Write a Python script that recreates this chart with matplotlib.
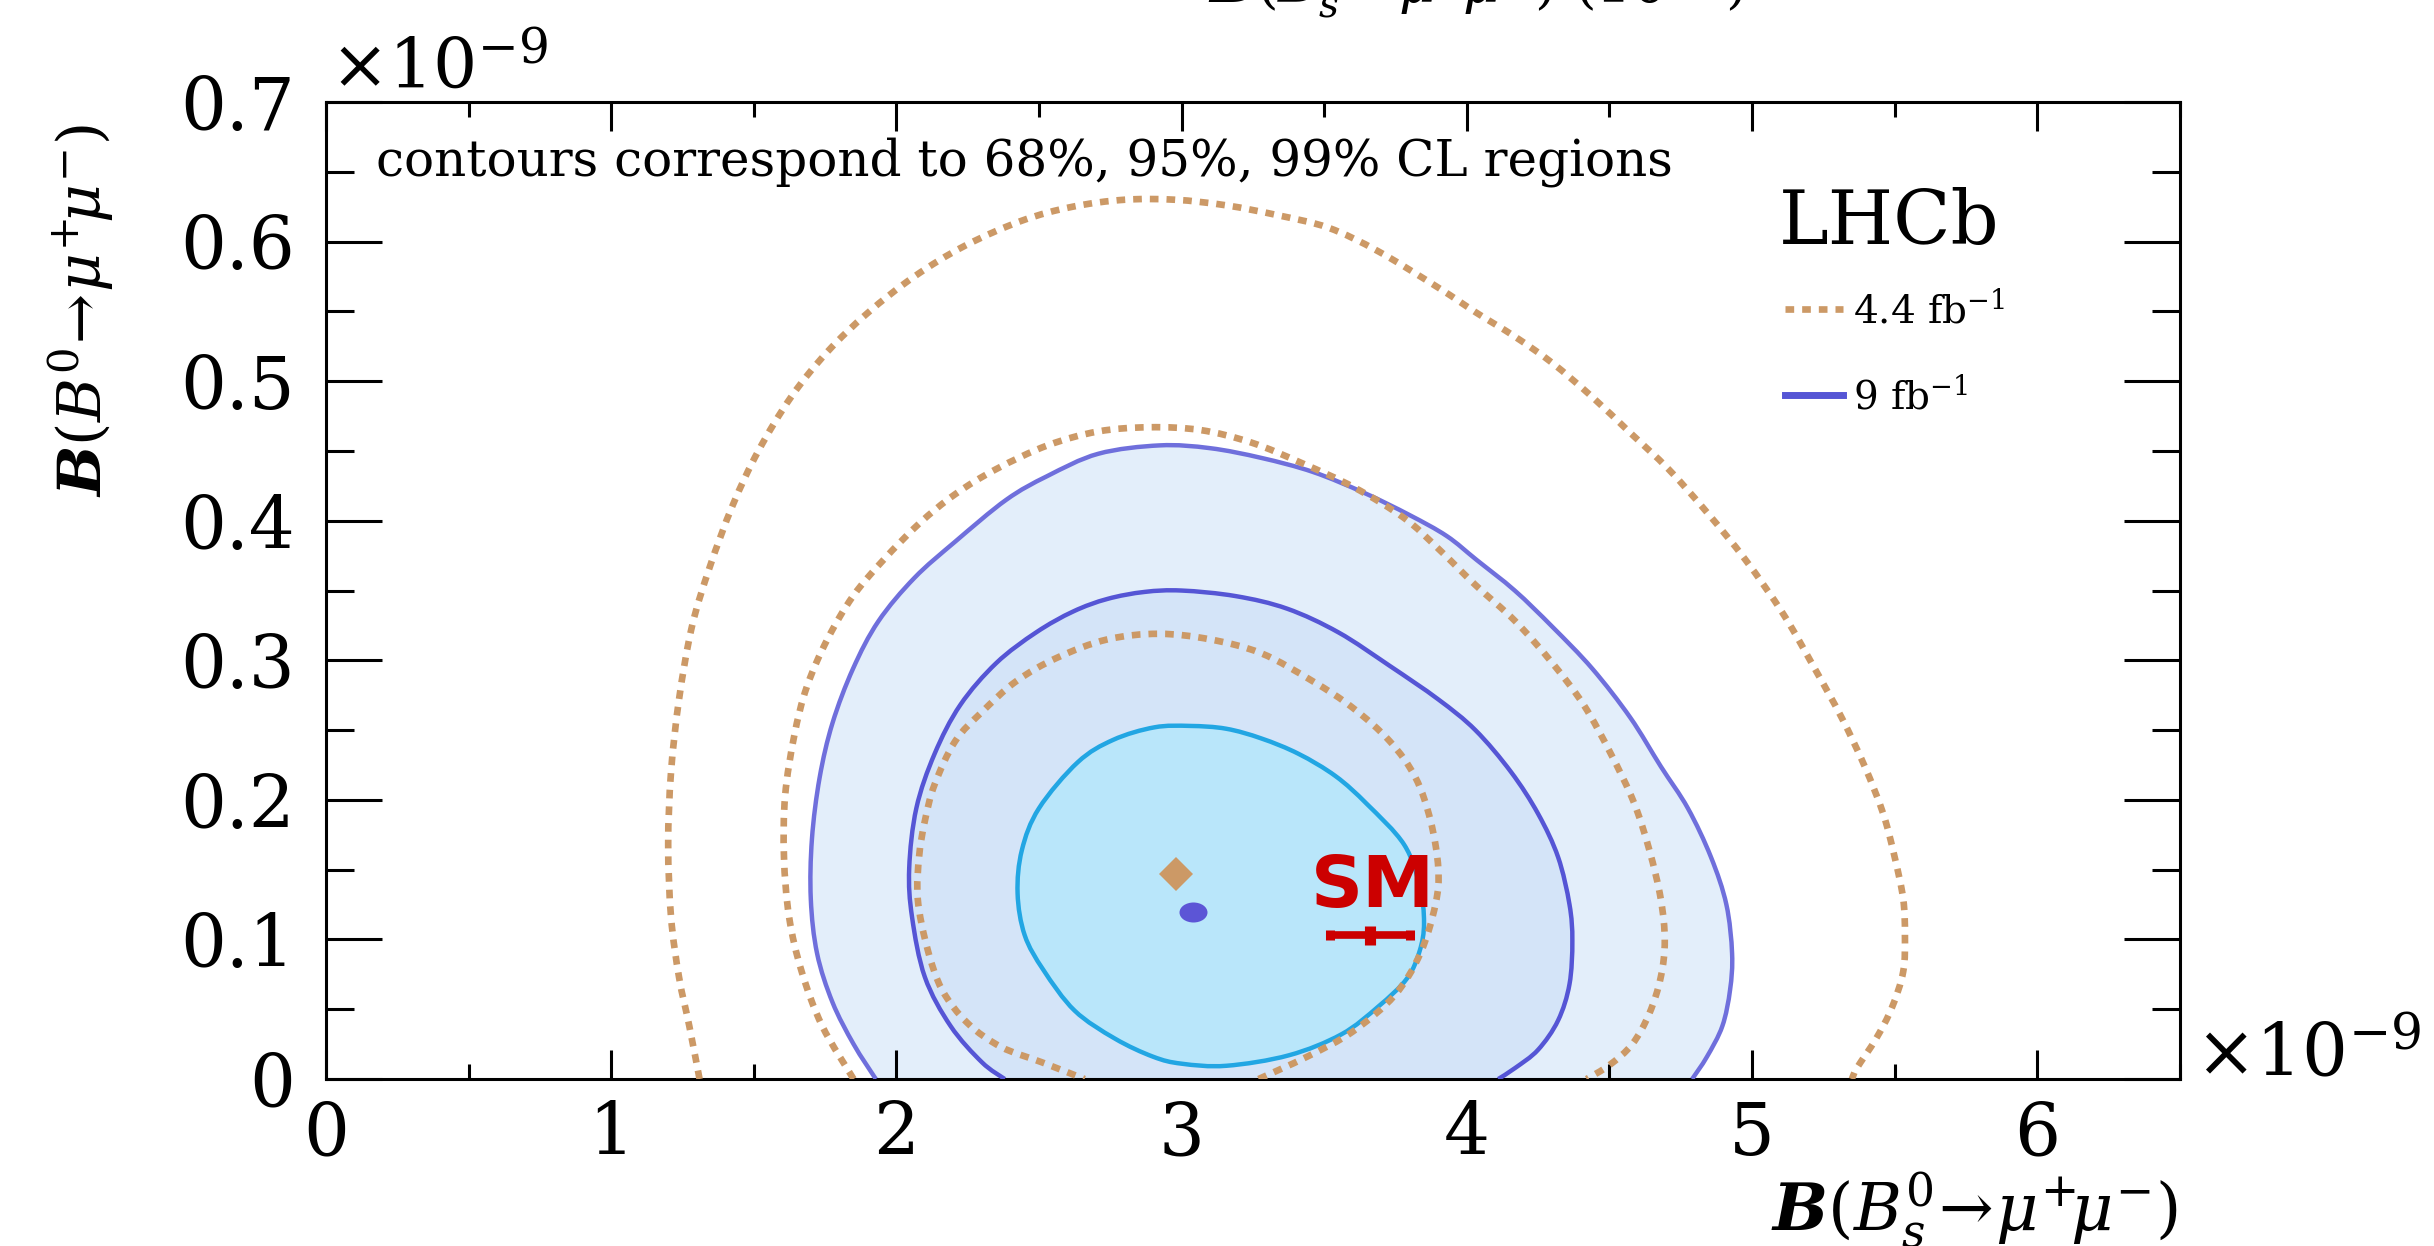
import numpy as np
import matplotlib as mpl
import matplotlib.pyplot as plt
from matplotlib.lines import Line2D
from matplotlib.markers import MarkerStyle
from matplotlib.path import Path
from matplotlib.patches import PathPatch
from matplotlib.transforms import Affine2D
from matplotlib.ticker import MultipleLocator, FuncFormatter

mpl.rcParams['font.family'] = 'DejaVu Serif'
mpl.rcParams['mathtext.fontset'] = 'dejavuserif'
mpl.rcParams['axes.linewidth'] = 2.2
mpl.rcParams['lines.dash_capstyle'] = 'butt'

# Branching fractions in units of 1e-9: x = B(Bs -> mu mu), y = B(B0 -> mu mu)

# 9 fb-1, 68% CL (closed)
bs_9fb_68 = [3.03, 2.905, 2.76, 2.636, 2.50, 2.44, 2.425, 2.45, 2.516, 2.625, 2.766, 2.90, 3.0,
             3.157, 3.376, 3.56, 3.69, 3.79, 3.835, 3.85, 3.835, 3.78, 3.65, 3.54, 3.41, 3.28, 3.156]
b0_9fb_68 = [0.253, 0.252, 0.243, 0.227, 0.194, 0.164, 0.133, 0.103, 0.078, 0.049, 0.029, 0.016, 0.011,
             0.0095, 0.017, 0.032, 0.052, 0.072, 0.092, 0.112, 0.138, 0.168, 0.197, 0.217, 0.233, 0.244, 0.251]

# 9 fb-1, 95% CL (cut at zero)
bs_9fb_95 = [2.38, 2.30, 2.19, 2.10, 2.055, 2.045, 2.07, 2.134, 2.224, 2.35, 2.49, 2.62, 2.74, 2.87,
             3.0, 3.19, 3.37, 3.55, 3.73, 3.90, 4.03, 4.155, 4.25, 4.32, 4.36, 4.37, 4.36, 4.32, 4.25,
             4.17, 4.11]
b0_9fb_95 = [0.0, 0.012, 0.038, 0.073, 0.116, 0.151, 0.194, 0.233, 0.268, 0.298, 0.320, 0.335, 0.344,
             0.349, 0.350, 0.346, 0.337, 0.320, 0.296, 0.272, 0.250, 0.220, 0.190, 0.159, 0.125, 0.099,
             0.068, 0.042, 0.021, 0.008, 0.0]

# 9 fb-1, 99% CL
bs_9fb_99 = [1.928, 1.85, 1.776, 1.722, 1.70, 1.704, 1.731, 1.776, 1.848, 1.937, 2.063, 2.206, 2.385,
             2.529, 2.708, 2.923, 3.10, 3.28, 3.46, 3.64, 3.80, 3.93, 4.034, 4.168, 4.30, 4.44, 4.573,
             4.68, 4.775, 4.856, 4.91, 4.93, 4.923, 4.896, 4.842, 4.79]
b0_9fb_99 = [0.0, 0.025, 0.055, 0.090, 0.129, 0.172, 0.216, 0.255, 0.294, 0.328, 0.359, 0.385, 0.415,
             0.432, 0.448, 0.454, 0.452, 0.445, 0.435, 0.420, 0.404, 0.389, 0.372, 0.350, 0.324, 0.294,
             0.259, 0.224, 0.194, 0.159, 0.125, 0.090, 0.064, 0.038, 0.016, 0.0]

# 4.4 fb-1, 68% CL (dips below zero)
bs_44fb_68 = [3.27, 3.44, 3.60, 3.747, 3.837, 3.89, 3.90, 3.873, 3.82, 3.73, 3.60, 3.46, 3.28, 3.10,
              2.92, 2.74, 2.565, 2.42, 2.30, 2.206, 2.134, 2.10, 2.08, 2.075, 2.108, 2.16, 2.25, 2.367,
              2.51, 2.66]
b0_44fb_68 = [0.0, 0.016, 0.034, 0.060, 0.090, 0.125, 0.151, 0.185, 0.216, 0.242, 0.266, 0.285, 0.305,
              0.315, 0.319, 0.315, 0.302, 0.285, 0.263, 0.242, 0.211, 0.185, 0.160, 0.129, 0.094, 0.064,
              0.040, 0.023, 0.012, 0.0]

# 4.4 fb-1, 95% CL
bs_44fb_95 = [1.85, 1.74, 1.668, 1.624, 1.606, 1.61, 1.642, 1.686, 1.758, 1.848, 1.955, 2.08, 2.206,
              2.35, 2.53, 2.708, 2.887, 3.066, 3.245, 3.425, 3.604, 3.78, 3.90, 4.03, 4.17, 4.30, 4.41,
              4.505, 4.586, 4.64, 4.68, 4.694, 4.68, 4.64, 4.58, 4.50, 4.42]
b0_44fb_95 = [0.0, 0.038, 0.077, 0.116, 0.159, 0.203, 0.246, 0.281, 0.315, 0.346, 0.372, 0.398, 0.419,
              0.437, 0.454, 0.464, 0.467, 0.465, 0.456, 0.441, 0.424, 0.402, 0.380, 0.354, 0.328, 0.298,
              0.268, 0.233, 0.198, 0.164, 0.129, 0.099, 0.073, 0.047, 0.025, 0.010, 0.0]

# 4.4 fb-1, 99% CL
bs_44fb_99 = [1.31, 1.274, 1.238, 1.21, 1.20, 1.21, 1.238, 1.283, 1.346, 1.426, 1.516, 1.632, 1.758,
              1.90, 2.063, 2.24, 2.44, 2.618, 2.80, 2.977, 3.156, 3.335, 3.514, 3.69, 3.90, 4.034, 4.168,
              4.30, 4.438, 4.573, 4.707, 4.842, 4.977, 5.11, 5.22, 5.314, 5.395, 5.46, 5.50, 5.53, 5.536,
              5.53, 5.49, 5.435, 5.368, 5.35]
b0_44fb_99 = [0.0, 0.038, 0.073, 0.116, 0.168, 0.220, 0.272, 0.324, 0.367, 0.411, 0.450, 0.489, 0.521,
              0.549, 0.575, 0.597, 0.615, 0.625, 0.630, 0.630, 0.626, 0.619, 0.610, 0.593, 0.567, 0.549,
              0.532, 0.513, 0.489, 0.463, 0.437, 0.406, 0.372, 0.333, 0.294, 0.259, 0.224, 0.190, 0.159,
              0.129, 0.103, 0.077, 0.051, 0.029, 0.008, 0.0]

# best-fit points
bs_fit_9fb, b0_fit_9fb = 3.04, 0.120
bs_fit_44fb, b0_fit_44fb = 2.98, 0.147

# SM prediction
bs_sm, bs_sm_err = 3.66, 0.14
b0_sm, b0_sm_err = 0.103, 0.007

ORANGE = '#cc9966'
LINE68, FILL68 = '#22a6e3', '#b9e6fa'
LINE95, FILL95 = '#5555d5', '#d4e4f8'
LINE99, FILL99 = '#6f6fdc', '#e3eefa'
DOT = '#5c55d6'
RED = '#cc0000'
DASH = (1.3, 1.2)

XLABEL = r'$\mathbfit{B}(B^0_s\!\rightarrow\!\mu^{+}\!\mu^{-})$'
YLABEL = r'$\mathbfit{B}(B^0\!\rightarrow\!\mu^{+}\!\mu^{-})$'


def smooth_path(xs, ys, closed=False, close_on_axis=False):
    # Catmull-Rom through the contour points, drawn as cubic Bezier segments
    pts = np.column_stack([xs, ys])
    n = len(pts)
    if closed:
        ext = np.vstack([pts[-1:], pts, pts[:2]])
        segs = n
    else:
        ext = np.vstack([pts[:1], pts, pts[-1:]])
        segs = n - 1
    verts = [pts[0]]
    codes = [Path.MOVETO]
    for i in range(segs):
        p0, p1, p2, p3 = ext[i], ext[i + 1], ext[i + 2], ext[i + 3]
        verts += [p1 + (p2 - p0) / 6, p2 - (p3 - p1) / 6, p2]
        codes += [Path.CURVE4] * 3
    if closed or close_on_axis:
        verts.append(pts[0])
        codes.append(Path.CLOSEPOLY)
    return Path(verts, codes)


def draw_contours(ax):
    fills = [(bs_9fb_99, b0_9fb_99, FILL99, LINE99, False),
             (bs_9fb_95, b0_9fb_95, FILL95, LINE95, False),
             (bs_9fb_68, b0_9fb_68, FILL68, LINE68, True)]
    for z, (xs, ys, fc, ec, closed) in enumerate(fills):
        ax.add_patch(PathPatch(smooth_path(xs, ys, closed, True), facecolor=fc,
                               edgecolor='none', zorder=1 + z))
    for xs, ys, fc, ec, closed in fills:
        ax.add_patch(PathPatch(smooth_path(xs, ys, closed), fill=False, edgecolor=ec,
                               lw=3.2, joinstyle='round', zorder=4))
    for xs, ys in [(bs_44fb_68, b0_44fb_68), (bs_44fb_95, b0_44fb_95), (bs_44fb_99, b0_44fb_99)]:
        ax.add_patch(PathPatch(smooth_path(xs, ys), fill=False, edgecolor=ORANGE, lw=4.8,
                               linestyle=(0, DASH), capstyle='butt', zorder=5))


def draw_points(ax):
    ax.plot(bs_fit_44fb, b0_fit_44fb, marker='D', ms=17, color=ORANGE, mew=0, ls='none', zorder=7)
    ellipse = MarkerStyle('o', transform=Affine2D().scale(1.4, 1.0))
    ax.plot(bs_fit_9fb, b0_fit_9fb, marker=ellipse, ms=14.4, color=DOT, mew=0, ls='none', zorder=7)
    ax.errorbar(bs_sm, b0_sm, xerr=bs_sm_err, fmt='none', ecolor=RED, elinewidth=5.5,
                capsize=3.6, capthick=6.5, zorder=8)
    ax.errorbar(bs_sm, b0_sm, yerr=b0_sm_err, fmt='none', ecolor=RED, elinewidth=8,
                capsize=0, zorder=8)
    ax.annotate('SM', xy=(bs_sm, b0_sm), xytext=(2, 20.5), textcoords='offset points',
                ha='center', va='baseline', fontsize=52, fontweight='bold',
                family='DejaVu Sans', color=RED, zorder=9)


def style_axes(ax):
    ax.set_xlim(0, 6.5)
    ax.set_ylim(0, 0.7)
    ax.xaxis.set_major_locator(MultipleLocator(1))
    ax.xaxis.set_minor_locator(MultipleLocator(0.5))
    ax.yaxis.set_major_locator(MultipleLocator(0.1))
    ax.yaxis.set_minor_locator(MultipleLocator(0.05))
    fmt = FuncFormatter(lambda v, p: f'{v:g}')
    ax.xaxis.set_major_formatter(fmt)
    ax.yaxis.set_major_formatter(fmt)
    ax.tick_params(which='both', direction='in', top=True, right=True, width=2.2, labelsize=52)
    ax.tick_params(axis='x', which='major', length=21, pad=15)
    ax.tick_params(axis='x', which='minor', length=10.5)
    ax.tick_params(axis='y', which='major', length=40, pad=22)
    ax.tick_params(axis='y', which='minor', length=20)

    ax.annotate(r'$\times10^{-9}$', xy=(0, 1), xycoords='axes fraction', xytext=(3, 10),
                textcoords='offset points', ha='left', va='baseline', fontsize=50)
    ax.annotate(r'$\times10^{-9}$', xy=(1, 0), xycoords='axes fraction', xytext=(11, 2),
                textcoords='offset points', ha='left', va='baseline', fontsize=52)


def draw_legend(ax):
    ax.text(0.027, 0.925, 'contours correspond to 68%, 95%, 99% CL regions',
            transform=ax.transAxes, fontsize=36, va='baseline')
    ax.text(0.7838, 0.8547, 'LHCb', transform=ax.transAxes, fontsize=54, va='baseline')
    handles = [Line2D([], [], color=ORANGE, lw=4.8, dashes=DASH),
               Line2D([], [], color=LINE95, lw=5)]
    ax.legend(handles, [r'4.4 fb$^{-1}$', r'9 fb$^{-1}$'], loc='upper left',
              bbox_to_anchor=(0.787, 0.807), frameon=False, fontsize=28,
              handlelength=1.5, handletextpad=0.25, labelspacing=1.2,
              borderpad=0, borderaxespad=0)


if __name__ == "__main__":
    fig = plt.figure(figsize=(24.34, 12.46), dpi=100)
    ax = fig.add_axes([0.1339, 0.134, 0.7617, 0.7841])
    draw_contours(ax)
    draw_points(ax)
    style_axes(ax)
    draw_legend(ax)

    fig.text(0.0333, 0.9005, YLABEL, rotation=90, ha='center', va='top', fontsize=43)
    fig.text(0.8948, 0.0130, XLABEL, ha='right', va='baseline', fontsize=47)
    # x title of the panel above, only its lower edge falls inside this figure
    fig.text(0.717, 1 - 3 / 1246, r'$\mathbfit{B}(B^0_s\!\rightarrow\!\mu^{+}\!\mu^{-})\ (10^{-9})$',
             ha='right', va='baseline', fontsize=40)

    fig.savefig('out.png', dpi=100)
